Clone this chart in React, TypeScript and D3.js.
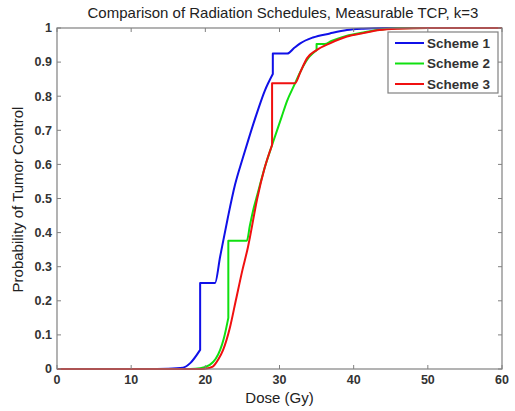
import * as d3 from "d3";

const W = 515;
const H = 411;
const MARGIN = { top: 28, right: 13, bottom: 42, left: 57 };

const xTicks = [0, 10, 20, 30, 40, 50, 60];
const yTicks = [0, 0.1, 0.2, 0.3, 0.4, 0.5, 0.6, 0.7, 0.8, 0.9, 1];

// [dose, tcp] pairs; repeated doses are the vertical steps
const scheme1: [number, number][] = [
  [0, 0], [12, 0], [15, 0.001], [17, 0.004], [18, 0.018], [19.3, 0.056], [19.3, 0.252],
  [21.3, 0.252], [22, 0.33], [23, 0.44], [24, 0.54], [25, 0.615], [25.8, 0.672],
  [27.1, 0.76], [28, 0.815], [29.1, 0.865], [29.1, 0.925], [31.05, 0.925], [32, 0.942],
  [32.8, 0.955], [34.5, 0.972], [36.8, 0.984], [39.1, 0.994], [41.3, 0.998], [44, 1], [60, 1],
];

const scheme2: [number, number][] = [
  [0, 0], [18, 0], [19.3, 0.002], [20.6, 0.012], [21.4, 0.03], [22, 0.056], [22.5, 0.09],
  [23.1, 0.15], [23.1, 0.376], [25.6, 0.376], [26, 0.42], [26.5, 0.47], [27, 0.51],
  [28, 0.59], [29, 0.657], [30.3, 0.74], [31, 0.785], [32, 0.833], [33, 0.88], [34, 0.915],
  [35, 0.935], [35, 0.953], [36.1, 0.953], [37, 0.962], [39, 0.977], [41.3, 0.987],
  [43.5, 0.995], [46, 0.999], [50, 1], [60, 1],
];

const scheme3: [number, number][] = [
  [0, 0], [19, 0], [20, 0.001], [21, 0.007], [21.8, 0.03], [22.4, 0.056], [23.3, 0.12],
  [24.1, 0.2], [25, 0.29], [25.75, 0.358], [26, 0.385], [27, 0.5], [28, 0.59], [29, 0.657],
  [29, 0.838], [32.1, 0.838], [32.8, 0.87], [33.7, 0.911], [35, 0.935], [36.8, 0.955],
  [39.1, 0.975], [41.3, 0.985], [43.5, 0.994], [46, 0.998], [50, 1], [60, 1],
];

const series = [
  { name: "Scheme 1", color: "#1010e8", data: scheme1 },
  { name: "Scheme 2", color: "#10e010", data: scheme2 },
  { name: "Scheme 3", color: "#f01010", data: scheme3 },
];

const FONT = "'Liberation Sans', Arial, sans-serif";
const AXIS = "#808080";

// split at the vertical jumps so the smooth parts can use a monotone curve
function splitRuns(data: [number, number][]) {
  const runs: [number, number][][] = [[data[0]]];
  for (let i = 1; i < data.length; i++) {
    if (data[i][0] === data[i - 1][0]) runs.push([data[i]]);
    else runs[runs.length - 1].push(data[i]);
  }
  return runs;
}

export default function App() {
  const boundsWidth = W - MARGIN.left - MARGIN.right;
  const boundsHeight = H - MARGIN.top - MARGIN.bottom;

  const xScale = d3.scaleLinear().domain([0, 60]).range([0, boundsWidth]);
  const yScale = d3.scaleLinear().domain([0, 1]).range([boundsHeight, 0]);

  const line = d3
    .line<[number, number]>()
    .x((d) => xScale(d[0]))
    .y((d) => yScale(d[1]))
    .curve(d3.curveMonotoneX);

  const pathFor = (data: [number, number][]) =>
    splitRuns(data)
      .map((run, i) => {
        const d = line(run) ?? "";
        // first command of each later run becomes a line-to, giving the vertical jump
        return i === 0 ? d : "L" + d.slice(1);
      })
      .join("");

  return (
    <svg
      width={W}
      height={H}
      style={{ position: "absolute", left: 0, top: 0, background: "#fff" }}
      fontFamily={FONT}
    >
      <text x={283} y={18} textAnchor="middle" fontSize={15} fill="#222">
        Comparison of Radiation Schedules, Measurable TCP, k=3
      </text>
      <g transform={`translate(${MARGIN.left},${MARGIN.top})`}>
        {series.map((s) => (
          <path
            key={s.name}
            d={pathFor(s.data)}
            fill="none"
            stroke={s.color}
            strokeWidth={2}
            strokeLinejoin="round"
          />
        ))}
        <rect
          x={0}
          y={0}
          width={boundsWidth}
          height={boundsHeight}
          fill="none"
          stroke={AXIS}
          strokeWidth={1.2}
        />
        {xTicks.map((t) => (
          <g key={`x${t}`}>
            <line x1={xScale(t)} x2={xScale(t)} y1={boundsHeight} y2={boundsHeight - 4} stroke={AXIS} />
            <line x1={xScale(t)} x2={xScale(t)} y1={0} y2={4} stroke={AXIS} />
            <text
              x={xScale(t)}
              y={boundsHeight + 15}
              textAnchor="middle"
              fontSize={12.5}
              fontWeight="bold"
              fill="#333"
            >
              {t}
            </text>
          </g>
        ))}
        {yTicks.map((t) => (
          <g key={`y${t}`}>
            <line x1={0} x2={4} y1={yScale(t)} y2={yScale(t)} stroke={AXIS} />
            <line x1={boundsWidth} x2={boundsWidth - 4} y1={yScale(t)} y2={yScale(t)} stroke={AXIS} />
            <text
              x={-5}
              y={yScale(t)}
              dy="0.35em"
              textAnchor="end"
              fontSize={12.5}
              fontWeight="bold"
              fill="#333"
            >
              {t}
            </text>
          </g>
        ))}
        <text
          x={boundsWidth / 2}
          y={boundsHeight + 34}
          textAnchor="middle"
          fontSize={15}
          fill="#222"
        >
          Dose (Gy)
        </text>
        <text
          transform={`translate(${-34},${boundsHeight / 2 + 1}) rotate(-90)`}
          textAnchor="middle"
          fontSize={15}
          fill="#222"
        >
          Probability of Tumor Control
        </text>
        <g transform={`translate(${388 - MARGIN.left},${32 - MARGIN.top})`}>
          <rect x={0} y={0} width={110} height={61} fill="#fff" stroke={AXIS} strokeWidth={1.2} />
          {series.map((s, i) => (
            <g key={s.name} transform={`translate(0,${11 + i * 20.5})`}>
              <line x1={7} x2={36} y1={0} y2={0} stroke={s.color} strokeWidth={2} />
              <text x={39} y={0} dy="0.35em" fontSize={13.5} fontWeight="bold" fill="#333">
                {s.name}
              </text>
            </g>
          ))}
        </g>
      </g>
    </svg>
  );
}
